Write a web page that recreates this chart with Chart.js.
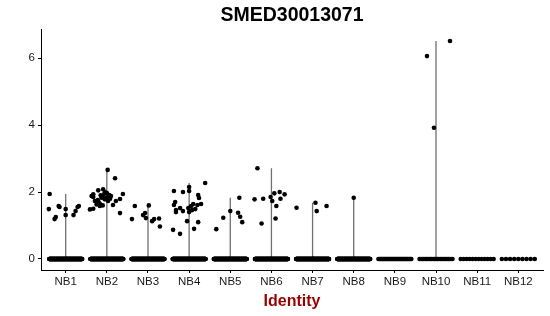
<!DOCTYPE html>
<html>
<head>
<meta charset="utf-8">
<script src="https://cdn.jsdelivr.net/npm/chart.js@4.4.1/dist/chart.umd.min.js"></script>
<style>
  html, body { margin: 0; padding: 0; background: #fff; }
  #wrap { width: 550px; height: 316px; position: relative; }
</style>
</head>
<body>
<div id="wrap"><canvas id="c" width="550" height="316"></canvas></div>
<script>
// ---- data ----
const chartTitle = 'SMED30013071';
const axisTitle = 'Identity';
const categories = ['NB1','NB2','NB3','NB4','NB5','NB6','NB7','NB8','NB9','NB10','NB11','NB12'];
const yTicks = [0, 2, 4, 6];
// number of cells with zero expression per cluster (estimated from the density of the band at 0)
const zeroCounts = [200, 200, 200, 200, 200, 200, 200, 200, 40, 25, 12, 9];
// non-zero expression values per cluster
const exprValues = [
  [1.94,1.49,1.58,1.55,1.19,1.25,1.49,1.31,1.31,1.43,1.55,1.58],
  [2.66,2.41,1.94,1.79,1.73,1.61,1.37,1.48,1.50,1.88,1.93,2.05,2.08,1.73,1.63,1.58,1.83,1.88,1.78,1.83,1.86,1.65,1.73,1.85,1.97,1.91,1.80,1.88,1.95,1.70,1.76,1.82,1.60,1.90,1.99],
  [1.58,1.19,1.60,1.31,1.37,1.22,1.13,1.19,1.21,0.97],
  [2.03,2.00,2.15,2.03,2.27,1.91,1.82,1.70,1.61,1.52,1.46,1.43,1.52,1.40,1.58,1.64,1.49,1.61,1.64,1.13,1.10,0.90,0.87,0.75,1.40,1.46],
  [0.89,1.23,1.43,1.83,1.38,1.26,1.10],
  [2.71,1.78,1.80,1.85,1.96,2.00,1.93,1.73,1.80,1.58,1.06,1.21],
  [1.53,1.68,1.43,1.58],
  [1.83],
  [],
  [6.06,6.51,3.92],
  [],
  []
];
// horizontal jitter of those points (category units)
const jitterOffsets = [
  [-0.39,-0.41,-0.17,-0.15,-0.27,-0.24,0.00,0.00,0.19,0.24,0.29,0.32],
  [0.02,0.20,0.39,0.32,0.22,0.15,0.32,-0.41,-0.33,-0.37,-0.33,-0.21,-0.09,-0.29,-0.25,-0.17,-0.13,-0.09,-0.05,-0.01,0.03,-0.17,0.03,-0.33,0.00,0.06,0.08,0.10,-0.06,-0.20,-0.22,0.05,-0.10,-0.15,-0.04],
  [-0.32,-0.39,0.02,-0.12,-0.07,-0.05,0.10,0.15,0.27,0.29],
  [-0.37,-0.15,0.00,0.00,0.39,0.22,0.24,-0.34,-0.37,-0.22,-0.32,-0.15,-0.02,0.00,0.05,0.10,0.15,0.20,0.29,-0.05,0.22,0.12,-0.39,-0.22,-0.32,0.07],
  [-0.34,-0.17,0.00,0.22,0.19,0.24,0.29],
  [-0.34,-0.41,-0.20,-0.02,0.07,0.20,0.32,0.02,0.22,0.12,-0.24,0.10],
  [-0.39,0.07,0.10,0.34],
  [0.00],
  [],
  [-0.22,0.34,-0.05],
  [],
  []
];

// ---- build datasets ----
const JW = 0.4;
const points = [];
categories.forEach((c, i) => {
  const n = zeroCounts[i];
  for (let k = 0; k < n; k++) {
    points.push({ x: i + 1 - JW + (2 * JW) * (n > 1 ? k / (n - 1) : 0.5), y: 0 });
  }
  exprValues[i].forEach((v, j) => points.push({ x: i + 1 + jitterOffsets[i][j], y: v }));
});
const violin = [];
categories.forEach((c, i) => {
  const top = Math.max(0, ...exprValues[i]);
  violin.push({ x: i + 1 - 0.42, y: 0 }, { x: i + 1 + 0.42, y: 0 }, { x: i + 1, y: null });
  if (top > 0) violin.push({ x: i + 1, y: 0 }, { x: i + 1, y: top }, { x: i + 1, y: null });
});

Chart.defaults.font.family = '"Liberation Sans", Arial, Helvetica, sans-serif';
Chart.defaults.color = '#1a1a1a';

new Chart(document.getElementById('c'), {
  type: 'scatter',
  data: {
    datasets: [
      { data: points, pointRadius: 2.3, pointBackgroundColor: '#000', pointBorderWidth: 0, order: 0 },
      { data: violin, showLine: true, spanGaps: false, pointRadius: 0, borderColor: '#707070', borderWidth: 1.3, order: 1 }
    ]
  },
  options: {
    responsive: false,
    animation: false,
    layout: { padding: { left: 0, right: 7, top: 0, bottom: 0 } },
    plugins: {
      legend: { display: false },
      tooltip: { enabled: false },
      title: {
        display: true, text: chartTitle, fullSize: false, color: '#000',
        font: { size: 19.5, weight: 'bold' }, padding: { top: 4, bottom: 1.6 }
      }
    },
    scales: {
      x: {
        type: 'linear', min: 0.4, max: 12.6,
        afterBuildTicks: s => { s.ticks = categories.map((c, i) => ({ value: i + 1 })); },
        afterFit: s => { s.height = 46; },
        ticks: {
          autoSkip: false, maxRotation: 0, padding: 2, color: '#1a1a1a',
          font: { size: 11.5 },
          callback: v => categories[Math.round(v) - 1]
        },
        grid: { drawOnChartArea: false, drawTicks: true, tickLength: 3, tickColor: '#000', tickWidth: 1 },
        border: { display: true, color: '#000', width: 1 },
        title: {
          display: true, text: axisTitle, color: '#990000',
          font: { size: 16, weight: 'bold' }, padding: { top: 0, bottom: 5 }
        }
      },
      y: {
        type: 'linear', min: -0.33, max: 6.87,
        afterBuildTicks: s => { s.ticks = yTicks.map(v => ({ value: v })); },
        afterFit: s => { s.width = 41; },
        ticks: { padding: 3, color: '#1a1a1a', font: { size: 11.5 } },
        grid: { drawOnChartArea: false, drawTicks: true, tickLength: 3, tickColor: '#000', tickWidth: 1 },
        border: { display: true, color: '#000', width: 1 }
      }
    }
  }
});
</script>
</body>
</html>
